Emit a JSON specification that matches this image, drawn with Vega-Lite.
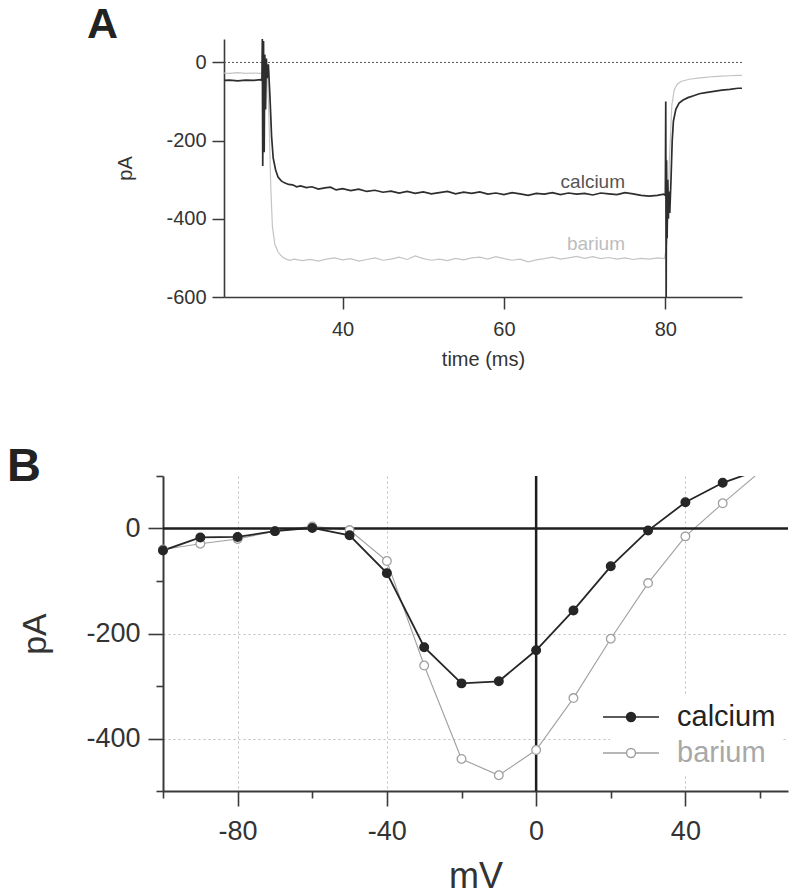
{
  "$schema": "https://vega.github.io/schema/vega-lite/v6.json",
  "background": "white",
  "padding": {"left": 7, "top": 4, "right": 0, "bottom": 0},
  "bounds": "flush",
  "spacing": 179,
  "resolve": {"legend": {"stroke": "independent", "fill": "independent"}},
  "config": {
    "font": "Liberation Sans",
    "view": {"stroke": null},
    "axis": {"grid": false, "domainColor": "#3a3a3a", "tickColor": "#3a3a3a", "labelColor": "#333333", "titleColor": "#333333", "titleFontWeight": "normal", "labelOverlap": false, "labelFlush": false},
    "title": {"fontWeight": "bold", "color": "#222222"}
  },
  "datasets": {
    "traceA": [
      {"trace":"barium","t":25.3,"pA":-27},{"trace":"barium","t":26,"pA":-28},{"trace":"barium","t":27,"pA":-26},{"trace":"barium","t":28,"pA":-28},{"trace":"barium","t":29,"pA":-27},{"trace":"barium","t":29.8,"pA":-28},{"trace":"barium","t":30.05,"pA":-27},{"trace":"barium","t":30.3,"pA":-10},{"trace":"barium","t":30.5,"pA":-6},{"trace":"barium","t":30.7,"pA":-40},{"trace":"barium","t":30.9,"pA":-160},{"trace":"barium","t":31.1,"pA":-320},{"trace":"barium","t":31.3,"pA":-420},{"trace":"barium","t":31.6,"pA":-465},{"trace":"barium","t":32,"pA":-485},{"trace":"barium","t":32.5,"pA":-497},{"trace":"barium","t":33,"pA":-503},{"trace":"barium","t":33.5,"pA":-506},{"trace":"barium","t":34,"pA":-503},{"trace":"barium","t":35,"pA":-507},{"trace":"barium","t":36,"pA":-504},{"trace":"barium","t":37,"pA":-508},{"trace":"barium","t":38,"pA":-503},{"trace":"barium","t":39,"pA":-500},{"trace":"barium","t":40,"pA":-505},{"trace":"barium","t":41,"pA":-502},{"trace":"barium","t":42,"pA":-508},{"trace":"barium","t":43,"pA":-504},{"trace":"barium","t":44,"pA":-500},{"trace":"barium","t":45,"pA":-506},{"trace":"barium","t":46,"pA":-503},{"trace":"barium","t":47,"pA":-498},{"trace":"barium","t":48,"pA":-504},{"trace":"barium","t":49,"pA":-495},{"trace":"barium","t":50,"pA":-502},{"trace":"barium","t":51,"pA":-506},{"trace":"barium","t":52,"pA":-503},{"trace":"barium","t":53,"pA":-507},{"trace":"barium","t":54,"pA":-501},{"trace":"barium","t":55,"pA":-505},{"trace":"barium","t":56,"pA":-500},{"trace":"barium","t":57,"pA":-498},{"trace":"barium","t":58,"pA":-503},{"trace":"barium","t":59,"pA":-497},{"trace":"barium","t":60,"pA":-502},{"trace":"barium","t":61,"pA":-506},{"trace":"barium","t":62,"pA":-503},{"trace":"barium","t":63,"pA":-510},{"trace":"barium","t":64,"pA":-505},{"trace":"barium","t":65,"pA":-502},{"trace":"barium","t":66,"pA":-498},{"trace":"barium","t":67,"pA":-503},{"trace":"barium","t":68,"pA":-500},{"trace":"barium","t":69,"pA":-496},{"trace":"barium","t":70,"pA":-501},{"trace":"barium","t":71,"pA":-497},{"trace":"barium","t":72,"pA":-502},{"trace":"barium","t":73,"pA":-499},{"trace":"barium","t":74,"pA":-503},{"trace":"barium","t":75,"pA":-500},{"trace":"barium","t":76,"pA":-504},{"trace":"barium","t":77,"pA":-501},{"trace":"barium","t":78,"pA":-503},{"trace":"barium","t":79,"pA":-500},{"trace":"barium","t":79.9,"pA":-502},{"trace":"barium","t":80.2,"pA":-460},{"trace":"barium","t":80.5,"pA":-250},{"trace":"barium","t":80.8,"pA":-110},{"trace":"barium","t":81.1,"pA":-70},{"trace":"barium","t":81.5,"pA":-55},{"trace":"barium","t":82,"pA":-48},{"trace":"barium","t":83,"pA":-43},{"trace":"barium","t":84,"pA":-40},{"trace":"barium","t":85,"pA":-38},{"trace":"barium","t":86,"pA":-36},{"trace":"barium","t":87,"pA":-35},{"trace":"barium","t":88,"pA":-34},{"trace":"barium","t":89,"pA":-33},{"trace":"barium","t":89.5,"pA":-33},
      {"trace":"calcium","t":25.3,"pA":-46},{"trace":"calcium","t":26,"pA":-45},{"trace":"calcium","t":27,"pA":-47},{"trace":"calcium","t":28,"pA":-45},{"trace":"calcium","t":29,"pA":-46},{"trace":"calcium","t":29.8,"pA":-44},{"trace":"calcium","t":30.0,"pA":-46},{"trace":"calcium","t":30.05,"pA":60},{"trace":"calcium","t":30.1,"pA":-265},{"trace":"calcium","t":30.2,"pA":55},{"trace":"calcium","t":30.28,"pA":-230},{"trace":"calcium","t":30.36,"pA":20},{"trace":"calcium","t":30.45,"pA":-120},{"trace":"calcium","t":30.55,"pA":10},{"trace":"calcium","t":30.65,"pA":-40},{"trace":"calcium","t":30.8,"pA":-5},{"trace":"calcium","t":31.0,"pA":-90},{"trace":"calcium","t":31.2,"pA":-190},{"trace":"calcium","t":31.4,"pA":-245},{"trace":"calcium","t":31.7,"pA":-275},{"trace":"calcium","t":32.0,"pA":-293},{"trace":"calcium","t":32.4,"pA":-303},{"trace":"calcium","t":32.8,"pA":-308},{"trace":"calcium","t":33.3,"pA":-312},{"trace":"calcium","t":33.8,"pA":-313},{"trace":"calcium","t":34.3,"pA":-318},{"trace":"calcium","t":34.8,"pA":-316},{"trace":"calcium","t":35.5,"pA":-320},{"trace":"calcium","t":36.2,"pA":-318},{"trace":"calcium","t":37,"pA":-324},{"trace":"calcium","t":37.8,"pA":-321},{"trace":"calcium","t":38.5,"pA":-319},{"trace":"calcium","t":39.2,"pA":-326},{"trace":"calcium","t":40,"pA":-323},{"trace":"calcium","t":41,"pA":-328},{"trace":"calcium","t":42,"pA":-324},{"trace":"calcium","t":43,"pA":-330},{"trace":"calcium","t":44,"pA":-327},{"trace":"calcium","t":45,"pA":-332},{"trace":"calcium","t":46,"pA":-329},{"trace":"calcium","t":47,"pA":-334},{"trace":"calcium","t":48,"pA":-330},{"trace":"calcium","t":49,"pA":-335},{"trace":"calcium","t":50,"pA":-331},{"trace":"calcium","t":51,"pA":-336},{"trace":"calcium","t":52,"pA":-333},{"trace":"calcium","t":53,"pA":-330},{"trace":"calcium","t":54,"pA":-336},{"trace":"calcium","t":55,"pA":-332},{"trace":"calcium","t":56,"pA":-335},{"trace":"calcium","t":57,"pA":-331},{"trace":"calcium","t":58,"pA":-337},{"trace":"calcium","t":59,"pA":-334},{"trace":"calcium","t":60,"pA":-338},{"trace":"calcium","t":61,"pA":-333},{"trace":"calcium","t":62,"pA":-336},{"trace":"calcium","t":63,"pA":-340},{"trace":"calcium","t":64,"pA":-335},{"trace":"calcium","t":65,"pA":-337},{"trace":"calcium","t":66,"pA":-333},{"trace":"calcium","t":67,"pA":-338},{"trace":"calcium","t":68,"pA":-334},{"trace":"calcium","t":69,"pA":-337},{"trace":"calcium","t":70,"pA":-335},{"trace":"calcium","t":71,"pA":-339},{"trace":"calcium","t":72,"pA":-334},{"trace":"calcium","t":73,"pA":-336},{"trace":"calcium","t":74,"pA":-338},{"trace":"calcium","t":75,"pA":-333},{"trace":"calcium","t":76,"pA":-336},{"trace":"calcium","t":77,"pA":-340},{"trace":"calcium","t":78,"pA":-342},{"trace":"calcium","t":79,"pA":-340},{"trace":"calcium","t":79.8,"pA":-337},{"trace":"calcium","t":80.0,"pA":-340},{"trace":"calcium","t":80.05,"pA":-100},{"trace":"calcium","t":80.1,"pA":-620},{"trace":"calcium","t":80.15,"pA":-250},{"trace":"calcium","t":80.22,"pA":-450},{"trace":"calcium","t":80.3,"pA":-300},{"trace":"calcium","t":80.38,"pA":-400},{"trace":"calcium","t":80.45,"pA":-330},{"trace":"calcium","t":80.55,"pA":-385},{"trace":"calcium","t":80.7,"pA":-300},{"trace":"calcium","t":80.85,"pA":-200},{"trace":"calcium","t":81.0,"pA":-150},{"trace":"calcium","t":81.3,"pA":-120},{"trace":"calcium","t":81.7,"pA":-104},{"trace":"calcium","t":82.2,"pA":-96},{"trace":"calcium","t":82.8,"pA":-90},{"trace":"calcium","t":83.5,"pA":-85},{"trace":"calcium","t":84.2,"pA":-80},{"trace":"calcium","t":85,"pA":-77},{"trace":"calcium","t":86,"pA":-74},{"trace":"calcium","t":87,"pA":-71},{"trace":"calcium","t":88,"pA":-69},{"trace":"calcium","t":89,"pA":-66},{"trace":"calcium","t":89.5,"pA":-66}
    ],
    "labelsA": [
      {"trace":"calcium","t":75.0,"pA":-320},
      {"trace":"barium","t":75.0,"pA":-479}
    ],
    "iv": [
      {"series":"barium","mV":-100,"pA":-40},{"series":"barium","mV":-90,"pA":-29},{"series":"barium","mV":-80,"pA":-20},{"series":"barium","mV":-70,"pA":-5},{"series":"barium","mV":-60,"pA":4},{"series":"barium","mV":-50,"pA":-3},{"series":"barium","mV":-40,"pA":-62},{"series":"barium","mV":-30,"pA":-261},{"series":"barium","mV":-20,"pA":-439},{"series":"barium","mV":-10,"pA":-470},{"series":"barium","mV":0,"pA":-422},{"series":"barium","mV":10,"pA":-323},{"series":"barium","mV":20,"pA":-210},{"series":"barium","mV":30,"pA":-104},{"series":"barium","mV":40,"pA":-15},{"series":"barium","mV":50,"pA":48},{"series":"barium","mV":60,"pA":108},
      {"series":"calcium","mV":-100,"pA":-42},{"series":"calcium","mV":-90,"pA":-17},{"series":"calcium","mV":-80,"pA":-16},{"series":"calcium","mV":-70,"pA":-5},{"series":"calcium","mV":-60,"pA":1},{"series":"calcium","mV":-50,"pA":-13},{"series":"calcium","mV":-40,"pA":-85},{"series":"calcium","mV":-30,"pA":-226},{"series":"calcium","mV":-20,"pA":-295},{"series":"calcium","mV":-10,"pA":-291},{"series":"calcium","mV":0,"pA":-232},{"series":"calcium","mV":10,"pA":-156},{"series":"calcium","mV":20,"pA":-72},{"series":"calcium","mV":30,"pA":-4},{"series":"calcium","mV":40,"pA":50},{"series":"calcium","mV":50,"pA":87},{"series":"calcium","mV":60,"pA":112}
    ]
  },
  "vconcat": [
    {
      "width": 579,
      "height": 258,
      "title": {"text": "A", "anchor": "start", "frame": "group", "dx": -76, "offset": -42, "baseline": "alphabetic", "fontSize": 43},
      "layer": [
        {
          "data": {"name": "traceA"},
          "transform": [{"filter": "datum.trace === 'barium'"}],
          "mark": {"type": "line", "clip": true, "color": "#c4c4c4", "strokeWidth": 1.2},
          "encoding": {
            "x": {"field": "t", "type": "quantitative",
              "scale": {"domain": [25.3, 89.5], "range": [61, 579], "nice": false, "zero": false},
              "axis": {"title": "time (ms)", "values": [40, 60, 80], "labelExpr": "'' + datum.value", "labelFontSize": 20, "titleFontSize": 20, "tickSize": 12, "labelPadding": 10, "titlePadding": 10, "domainWidth": 1.6, "tickWidth": 1.5}},
            "y": {"field": "pA", "type": "quantitative",
              "scale": {"domain": [-600, 60], "nice": false, "zero": false},
              "axis": {"title": "pA", "offset": -61, "values": [0, -200, -400, -600], "labelExpr": "'' + datum.value", "labelFontSize": 20, "titleFontSize": 20, "tickSize": 12, "labelPadding": 6, "titlePadding": 30, "domainWidth": 1.6, "tickWidth": 1.5}}
          }
        },
        {
          "data": {"values": [{"t0": 25.3, "t1": 89.5, "pA": 0}]},
          "mark": {"type": "rule", "color": "#555555", "strokeDash": [2, 2], "strokeWidth": 1},
          "encoding": {
            "x": {"field": "t0", "type": "quantitative", "title": "time (ms)"},
            "x2": {"field": "t1"},
            "y": {"field": "pA", "type": "quantitative", "title": "pA"}
          }
        },
        {
          "data": {"name": "traceA"},
          "transform": [{"filter": "datum.trace === 'calcium'"}],
          "mark": {"type": "line", "clip": true, "color": "#2e2e2e", "strokeWidth": 1.7},
          "encoding": {
            "x": {"field": "t", "type": "quantitative"},
            "y": {"field": "pA", "type": "quantitative"}
          }
        },
        {
          "data": {"name": "labelsA"},
          "transform": [{"filter": "datum.trace === 'calcium'"}],
          "mark": {"type": "text", "align": "right", "baseline": "alphabetic", "fontSize": 19, "color": "#555555"},
          "encoding": {
            "x": {"field": "t", "type": "quantitative"},
            "y": {"field": "pA", "type": "quantitative"},
            "text": {"field": "trace"}
          }
        },
        {
          "data": {"name": "labelsA"},
          "transform": [{"filter": "datum.trace === 'barium'"}],
          "mark": {"type": "text", "align": "right", "baseline": "alphabetic", "fontSize": 19, "color": "#bdbdbd"},
          "encoding": {
            "x": {"field": "t", "type": "quantitative"},
            "y": {"field": "pA", "type": "quantitative"},
            "text": {"field": "trace"}
          }
        }
      ]
    },
    {
      "width": 625,
      "height": 315,
      "title": {"text": "B", "anchor": "start", "frame": "group", "dx": -156, "offset": -66, "baseline": "alphabetic", "fontSize": 47},
      "layer": [
        {
          "data": {"name": "iv"},
          "transform": [{"filter": "datum.series === 'barium'"}],
          "mark": {"type": "line", "clip": true, "color": "#a0a0a0", "strokeWidth": 1.1},
          "encoding": {
            "x": {"field": "mV", "type": "quantitative",
              "scale": {"domain": [-100, 67.5], "nice": false, "zero": false},
              "axis": {"title": "mV", "values": [-100, -90, -80, -70, -60, -50, -40, -30, -20, -10, 0, 10, 20, 30, 40, 50, 60],
                "labelExpr": "datum.value % 40 === 0 ? '' + datum.value : ''",
                "tickSize": 15,
                "tickDash": {"condition": {"test": "datum.value % 40 === 0", "value": [20, 1]}, "value": [7, 20]},
                "grid": true, "gridColor": "#bdbdbd", "gridDash": [2, 3], "gridWidth": 1,
                "gridOpacity": {"condition": {"test": "datum.value % 40 === 0 && datum.value !== 0", "value": 1}, "value": 0},
                "labelFontSize": 27, "labelPadding": 12, "titleFontSize": 36, "titlePadding": 15, "domainWidth": 2, "tickWidth": 1.6}},
            "y": {"field": "pA", "type": "quantitative",
              "scale": {"domain": [-500, 100], "nice": false, "zero": false},
              "axis": {"title": "pA", "values": [100, 0, -100, -200, -300, -400, -500],
                "labelExpr": "datum.value % 200 === 0 ? '' + datum.value : ''",
                "tickSize": 15,
                "tickDash": {"condition": {"test": "datum.value % 200 === 0", "value": [20, 1]}, "value": [7, 20]},
                "grid": true, "gridColor": "#bdbdbd", "gridDash": [2, 3], "gridWidth": 1,
                "gridOpacity": {"condition": {"test": "datum.value % 200 === 0 && datum.value !== 0", "value": 1}, "value": 0},
                "labelFontSize": 27, "labelPadding": 8, "titleFontSize": 34, "titlePadding": 33, "domainWidth": 2, "tickWidth": 1.6}}
          }
        },
        {
          "data": {"name": "iv"},
          "transform": [{"filter": "datum.series === 'calcium'"}],
          "mark": {"type": "line", "clip": true, "color": "#262626", "strokeWidth": 1.8},
          "encoding": {
            "x": {"field": "mV", "type": "quantitative"},
            "y": {"field": "pA", "type": "quantitative"}
          }
        },
        {
          "data": {"values": [{"mV": 0, "pA": 0}]},
          "mark": {"type": "rule", "color": "#1e1e1e", "strokeWidth": 2.5},
          "encoding": {"y": {"field": "pA", "type": "quantitative"}}
        },
        {
          "data": {"values": [{"mV": 0, "pA": 0}]},
          "mark": {"type": "rule", "color": "#1e1e1e", "strokeWidth": 2.5},
          "encoding": {"x": {"field": "mV", "type": "quantitative"}}
        },
        {
          "data": {"name": "iv"},
          "transform": [{"filter": "datum.mV <= 50"}],
          "mark": {"type": "point", "shape": "circle", "size": 75, "strokeWidth": 1.3, "opacity": 1, "filled": false},
          "encoding": {
            "x": {"field": "mV", "type": "quantitative"},
            "y": {"field": "pA", "type": "quantitative"},
            "stroke": {"field": "series", "type": "nominal", "scale": {"domain": ["calcium", "barium"], "range": ["#262626", "#a0a0a0"]},
              "legend": {"title": null, "orient": "none", "legendX": 447, "legendY": 220, "fillColor": "white", "padding": 6,
                "symbolType": "M-2,0L-0.32,0M0.32,0L2,0M0.32,0A0.32,0.32,0,1,1,-0.32,0A0.32,0.32,0,1,1,0.32,0",
                "symbolSize": 784, "symbolStrokeWidth": 1.5, "labelFontSize": 29, "labelOffset": 31, "rowPadding": 6,
                "labelColor": {"expr": "datum.value === 'calcium' ? '#222222' : '#a8a8a8'"}}},
            "fill": {"field": "series", "type": "nominal", "scale": {"domain": ["calcium", "barium"], "range": ["#262626", "#ffffff"]},
              "legend": {"title": null, "orient": "none", "legendX": 447, "legendY": 220, "fillColor": "white", "padding": 6,
                "symbolType": "M-2,0L-0.32,0M0.32,0L2,0M0.32,0A0.32,0.32,0,1,1,-0.32,0A0.32,0.32,0,1,1,0.32,0",
                "symbolSize": 784, "symbolStrokeWidth": 1.5, "labelFontSize": 29, "labelOffset": 31, "rowPadding": 6,
                "labelColor": {"expr": "datum.value === 'calcium' ? '#222222' : '#a8a8a8'"}}}
          }
        }
      ]
    }
  ]
}
